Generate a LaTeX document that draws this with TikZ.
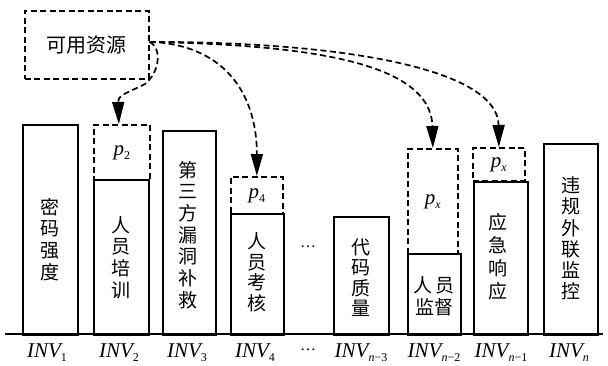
\documentclass[tikz,border=0pt]{standalone}
\usepackage{fontspec}
\setmainfont{Liberation Serif}
\newfontfamily\cjk{Noto Sans CJK SC}
\usetikzlibrary{arrows.meta}
\newcommand\mysub[1]{\raisebox{-4.5pt}{\fontsize{12}{12}\selectfont\upshape #1}}
\begin{document}
\begin{tikzpicture}[x=1pt,y=-1pt,
  bar/.style={draw, line width=1.8pt, inner sep=0pt, anchor=north west},
  dbox/.style={draw, line width=1.7pt, dash pattern=on 6pt off 3.5pt, inner sep=0pt, anchor=north west,
    font=\fontsize{21}{21}\selectfont\itshape},
  vtxt/.style={font=\cjk\fontsize{19}{21.7}\selectfont, align=center, inner sep=0pt},
  lab/.style={font=\fontsize{21}{21}\selectfont\itshape, inner sep=0pt, anchor=base},
  arr/.style={line width=1.7pt, dash pattern=on 6pt off 3.5pt, -{Triangle[width=12pt,length=22pt]}},
]
\useasboundingbox (0,0) rectangle (608,365);
% source box
\node[dbox, minimum width=124pt, minimum height=68pt, font=\cjk\fontsize{20}{20}\selectfont] (src) at (24,10) {可用资源};
% bars
\node[bar, minimum width=55pt, minimum height=210pt] (b1) at (22,124) {};
\node[bar, minimum width=55pt, minimum height=155pt] (b2) at (93,179) {};
\node[dbox, minimum width=56pt, minimum height=55pt] (p2) at (93,124) {p\mysub{2}};
\node[bar, minimum width=53pt, minimum height=204pt] (b3) at (162,130) {};
\node[bar, minimum width=53pt, minimum height=121pt] (b4) at (230,213) {};
\node[dbox, minimum width=52pt, minimum height=37pt] (p4) at (230,176) {p\mysub{4}};
\node[bar, minimum width=55pt, minimum height=118pt] (b5) at (333,216) {};
\node[bar, minimum width=53pt, minimum height=81pt] (b6) at (407,253) {};
\node[dbox, minimum width=50pt, minimum height=105pt] (pxa) at (407,148) {p\mysub{\textit{x}}};
\node[bar, minimum width=54pt, minimum height=153pt] (b7) at (473,181) {};
\node[dbox, minimum width=52pt, minimum height=33pt] (pxb) at (472,147) {p\mysub{\textit{x}}};
\node[bar, minimum width=54pt, minimum height=191pt] (b8) at (543,143) {};
% baseline
\coordinate (L) at (5,334);
\coordinate (R) at (603,334);
\draw[line width=2.2pt] (L) -- (R);
% bar texts
\node[vtxt] (t1) at (50,239.5) {密\\码\\强\\度};
\node[vtxt] (t2) at (121,257.5) {人\\员\\培\\训};
\node[vtxt] (t3) at (188,235) {第\\三\\方\\漏\\洞\\补\\救};
\node[vtxt, font=\cjk\fontsize{19}{20.5}\selectfont] (t4) at (257,272.5) {人\\员\\考\\核};
\node[vtxt, font=\cjk\fontsize{19}{20.5}\selectfont] (t5) at (361,277.5) {代\\码\\质\\量};
\node[vtxt] (t6) at (434,296) {人\,员\\监督};
\node[vtxt, font=\cjk\fontsize{19}{23}\selectfont] (t7) at (498,257) {应\\急\\响\\应};
\node[vtxt, font=\cjk\fontsize{19}{21.3}\selectfont] (t8) at (571,238.5) {违\\规\\外\\联\\监\\控};
\node[inner sep=0pt, font=\fontsize{16}{16}\selectfont] (dm) at (308,247) {…};
% labels
\node[lab] (l1) at (47,357) {INV\mysub{1}};
\node[lab] (l2) at (119,357) {INV\mysub{2}};
\node[lab] (l3) at (187,357) {INV\mysub{3}};
\node[lab] (l4) at (255,357) {INV\mysub{4}};
\node[inner sep=0pt, font=\fontsize{16}{16}\selectfont] (dl) at (308,350) {…};
\node[lab] (l5) at (361,357) {INV\mysub{\textit{n}−3}};
\node[lab] (l6) at (434,357) {INV\mysub{\textit{n}−2}};
\node[lab] (l7) at (501,357) {INV\mysub{\textit{n}−1}};
\node[lab] (l8) at (569,357) {INV\mysub{\textit{n}}};
% arrows
\draw[arr] ([yshift=3pt]src.east) .. controls (162,48) and (160,72) .. (145,84)
   .. controls (125,94) and (118,95) .. ([xshift=-3pt]p2.north);
\draw[arr] ([yshift=3pt]src.east) .. controls (230,45) and (257,100) .. (p4.north);
\draw[arr] ([yshift=3pt]src.east) .. controls (300,45) and (431,60) .. (pxa.north);
\draw[arr] ([yshift=3pt]src.east) .. controls (350,42) and (498,70) .. (pxb.north);
\end{tikzpicture}
\end{document}
